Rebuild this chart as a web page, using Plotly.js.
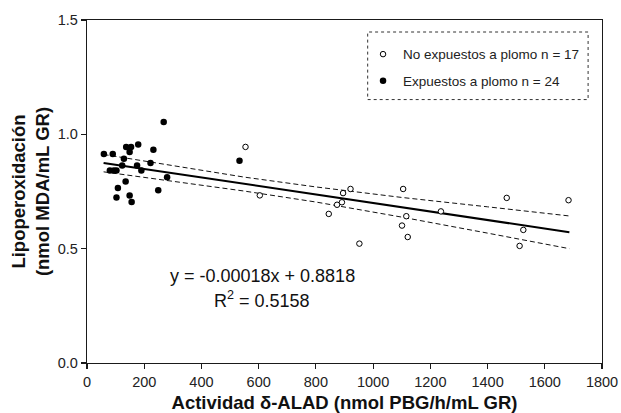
<!DOCTYPE html>
<html>
<head>
<meta charset="utf-8">
<script src="https://cdn.plot.ly/plotly-3.0.1.min.js"></script>
<style>html,body{margin:0;padding:0;background:#fff;}#chart{width:621px;height:413px;}</style>
</head>
<body>
<div id="chart"></div>
<script>
// Data
var unexposedX = [554, 604, 845, 874, 891, 895, 921, 952, 1101, 1105, 1116, 1121, 1237, 1467, 1512, 1525, 1683];
var unexposedY = [0.945, 0.733, 0.652, 0.692, 0.703, 0.743, 0.761, 0.522, 0.601, 0.761, 0.642, 0.551, 0.663, 0.722, 0.512, 0.582, 0.712];

var exposedX = [59, 90, 80, 94, 103, 108, 103, 123, 129, 135, 137, 149, 154, 149, 156, 175, 179, 190, 222, 232, 249, 268, 280, 533];
var exposedY = [0.914, 0.914, 0.842, 0.842, 0.842, 0.765, 0.724, 0.864, 0.893, 0.794, 0.945, 0.923, 0.945, 0.733, 0.704, 0.864, 0.955, 0.842, 0.875, 0.933, 0.755, 1.054, 0.812, 0.885];

var fitX = [58, 1686];
var fitY = [0.875, 0.572];

var bandX = [58, 300, 549, 800, 1100, 1400, 1686];
var bandUpper = [0.912, 0.862, 0.813, 0.770, 0.724, 0.683, 0.643];
var bandLower = [0.836, 0.796, 0.752, 0.704, 0.638, 0.568, 0.500];

var xTicks = [0, 200, 400, 600, 800, 1000, 1200, 1400, 1600, 1800];
var yTicks = [0.0, 0.5, 1.0, 1.5];

var legendNames = ['No expuestos a plomo n = 17', 'Expuestos a plomo n = 24'];
var equationText = 'y = -0.00018x + 0.8818';
var r2Text = 'R<sup>2</sup> = 0.5158';
var xTitle = 'Actividad δ-ALAD (nmol PBG/h/mL GR)';
var yTitle = 'Lipoperoxidación<br>(nmol MDA/mL GR)';

var FONT = 'Liberation Sans, Arial, Helvetica, sans-serif';

var traces = [
  {x: bandX, y: bandUpper, type: 'scatter', mode: 'lines', showlegend: false, hoverinfo: 'skip',
   line: {color: '#111', width: 1, dash: '5px,3px'}},
  {x: bandX, y: bandLower, type: 'scatter', mode: 'lines', showlegend: false, hoverinfo: 'skip',
   line: {color: '#111', width: 1, dash: '5px,3px'}},
  {x: fitX, y: fitY, type: 'scatter', mode: 'lines', showlegend: false, hoverinfo: 'skip',
   line: {color: '#000', width: 2}},
  {x: unexposedX, y: unexposedY, type: 'scatter', mode: 'markers', name: legendNames[0],
   legendgroup: 'a',
   marker: {symbol: 'circle', size: 5.5, color: '#fff', line: {color: '#000', width: 1}}},
  {x: exposedX, y: exposedY, type: 'scatter', mode: 'markers', name: legendNames[1],
   legendgroup: 'b',
   marker: {symbol: 'circle', size: 6.5, color: '#000', line: {width: 0}}}
];

var layout = {
  width: 621, height: 413,
  margin: {l: 87, r: 19, t: 20, b: 50, pad: 0},
  paper_bgcolor: '#fff', plot_bgcolor: '#fff',
  font: {family: FONT, color: '#222', size: 14.5},
  showlegend: true,
  legend: {
    x: 0.536, y: 0.945, xanchor: 'left', yanchor: 'top',
    bgcolor: 'rgba(0,0,0,0)', borderwidth: 0,
    traceorder: 'grouped', tracegroupgap: 6,
    font: {family: FONT, size: 13.5, color: '#222'}
  },
  xaxis: {
    range: [0, 1800], tickvals: xTicks, ticktext: xTicks.map(String),
    showgrid: false, zeroline: false,
    showline: true, linecolor: '#1a1a1a', linewidth: 1.2, mirror: true,
    ticks: 'outside', ticklen: 5, tickwidth: 1.2, tickcolor: '#1a1a1a',
    tickfont: {family: FONT, size: 14.5, color: '#222'},
    title: {text: xTitle, standoff: 10, font: {family: FONT, size: 18.5, weight: 'bold', color: '#111'}},
    automargin: false
  },
  yaxis: {
    range: [0, 1.5], tickvals: yTicks, ticktext: yTicks.map(function(v){return v.toFixed(1);}),
    showgrid: false, zeroline: false,
    showline: true, linecolor: '#1a1a1a', linewidth: 1.2, mirror: true,
    ticks: 'outside', ticklen: 5, tickwidth: 1.2, tickcolor: '#1a1a1a',
    tickfont: {family: FONT, size: 14.5, color: '#222'},
    title: {text: yTitle, standoff: 3, font: {family: FONT, size: 18.5, weight: 'bold', color: '#111'}},
    automargin: false
  },
  shapes: [
    {type: 'rect', xref: 'paper', yref: 'paper', x0: 0.545, x1: 0.973, y0: 0.768, y1: 0.965,
     line: {color: '#333', width: 1, dash: 'dot'}, fillcolor: 'rgba(0,0,0,0)'}
  ],
  annotations: [
    {xref: 'paper', yref: 'paper', x: 0.3406, y: 0.2523, text: equationText, showarrow: false,
     xanchor: 'center', yanchor: 'middle', font: {family: FONT, size: 18, color: '#111'}},
    {xref: 'paper', yref: 'paper', x: 0.3406, y: 0.1844, text: r2Text, showarrow: false,
     xanchor: 'center', yanchor: 'middle', font: {family: FONT, size: 18, color: '#111'}}
  ]
};

Plotly.newPlot('chart', traces, layout, {displayModeBar: false, staticPlot: true});
</script>
</body>
</html>
